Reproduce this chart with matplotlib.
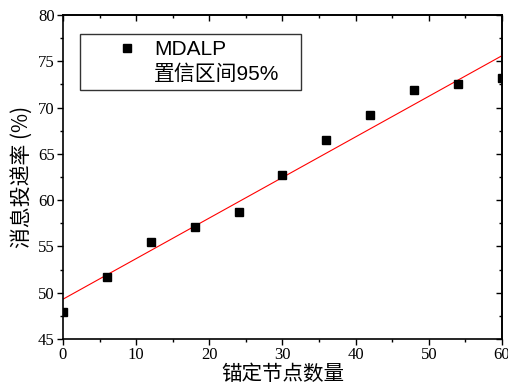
import matplotlib
matplotlib.use("Agg")
import numpy as np
import matplotlib.pyplot as plt
from matplotlib.lines import Line2D
from matplotlib.legend_handler import HandlerLine2DCompound
from matplotlib.ticker import MultipleLocator

anchors = [0, 6, 12, 18, 24, 30, 36, 42, 48, 54, 60]
delivery = [47.9, 51.75, 55.5, 57.1, 58.7, 62.7, 66.5, 69.2, 71.85, 72.55, 73.2]
fit_x = [0, 60]
fit_y = [49.3, 75.6]
legend_labels = ["MDALP", "置信区间95%"]
xlabel = "锚定节点数量"
ylabel = "消息投递率 (%)"

plt.rcParams["font.family"] = ["Liberation Serif", "Noto Sans CJK SC"]


class OffsetMarkerHandler(HandlerLine2DCompound):
    def get_xdata(self, legend, xdescent, ydescent, width, height, fontsize):
        xd = np.array([-xdescent, -xdescent + width])
        return xd, np.array([-xdescent + width * 0.68])


fig = plt.figure(figsize=(5.08, 3.85), dpi=100)
ax = fig.add_axes([0.124, 0.1195, 0.864, 0.8415])

ax.plot(fit_x, fit_y, color="red", lw=0.8, zorder=2)
ax.plot(anchors, delivery, ls="none", marker="s", ms=6, color="black", zorder=3, clip_on=True)

ax.set_xlim(0, 60)
ax.set_ylim(45, 80)
ax.xaxis.set_major_locator(MultipleLocator(10))
ax.xaxis.set_minor_locator(MultipleLocator(5))
ax.yaxis.set_major_locator(MultipleLocator(5))
ax.yaxis.set_minor_locator(MultipleLocator(2.5))
ax.tick_params(axis="both", which="major", direction="out", length=4, width=1, pad=2, labelsize=12)
ax.tick_params(axis="both", which="minor", direction="out", length=2.5, width=1)

top = ax.secondary_xaxis("top")
top.xaxis.set_major_locator(MultipleLocator(10))
top.xaxis.set_minor_locator(MultipleLocator(5))
top.tick_params(which="major", direction="in", length=4, width=1, labeltop=False)
top.tick_params(which="minor", direction="in", length=2.5, width=1)
right = ax.secondary_yaxis("right")
right.yaxis.set_major_locator(MultipleLocator(5))
right.yaxis.set_minor_locator(MultipleLocator(2.5))
right.tick_params(which="major", direction="in", length=4, width=1, labelright=False)
right.tick_params(which="minor", direction="in", length=2.5, width=1)
for s in (top, right):
    for sp in s.spines.values():
        sp.set_linewidth(1.2)
for sp in ax.spines.values():
    sp.set_linewidth(1.2)

ax.set_xlabel(xlabel, fontfamily=["Noto Sans CJK SC"], fontsize=14.8, labelpad=0)
ax.set_ylabel(ylabel, fontfamily=["Noto Sans CJK SC", "DejaVu Sans"], fontsize=15, labelpad=4)

h1 = Line2D([], [], ls="none", marker="s", ms=6, color="black")
h2 = Line2D([], [], ls="none", marker="none")
leg = ax.legend([h1, h2], legend_labels, loc="upper left",
                bbox_to_anchor=(0.0387, 0.0, 0.503, 0.942), mode="expand",
                handler_map={Line2D: OffsetMarkerHandler(numpoints=1)},
                prop={"family": ["Liberation Sans", "Noto Sans CJK SC"], "size": 15},
                frameon=True, fancybox=False, edgecolor="black", borderpad=0.3,
                labelspacing=0.25, handlelength=2.85, handletextpad=0.4, borderaxespad=0)
leg.get_frame().set_linewidth(1.0)

fig.savefig("out.png", dpi=100)
